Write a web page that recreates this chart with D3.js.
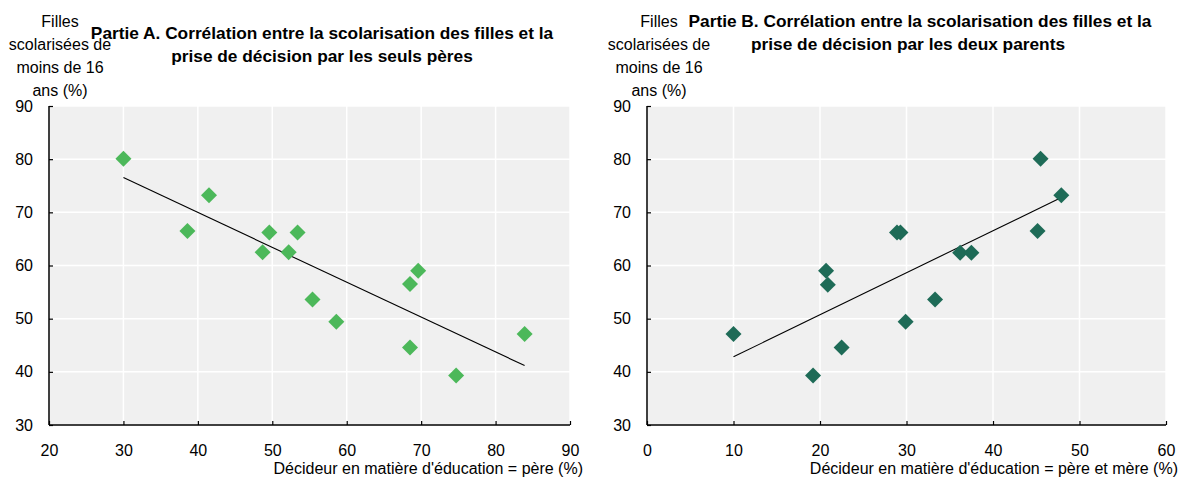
<!DOCTYPE html>
<html><head><meta charset="utf-8">
<script src="https://cdn.jsdelivr.net/npm/d3@7"></script>
<style>
body{margin:0;background:#fff;}
text{font-family:"Liberation Sans Narrow","Arial Narrow","Liberation Sans",Arial,sans-serif;}
</style></head>
<body><svg id="c" width="1179" height="478"></svg>
<script>
// Panel A: father-only decision (%) vs girls schooled (%)
const pereX = [30, 38.6, 41.5, 48.7, 49.6, 52.2, 53.4, 55.4, 58.6, 68.5, 69.6, 68.5, 74.7, 83.9];
const pereY = [80.1, 66.5, 73.2, 62.5, 66.2, 62.5, 66.2, 53.6, 49.4, 56.5, 59.0, 44.6, 39.3, 47.1];
// Panel B: both parents decision (%) vs girls schooled (%)
const deuxX = [10, 19.2, 20.7, 20.9, 22.5, 28.9, 29.3, 29.9, 33.3, 36.2, 37.5, 45.15, 45.5, 47.9];
const deuxY = [47.1, 39.3, 59.0, 56.4, 44.6, 66.2, 66.2, 49.4, 53.6, 62.4, 62.4, 66.5, 80.1, 73.2];

const xTicksA = [20, 30, 40, 50, 60, 70, 80, 90];
const xTicksB = [0, 10, 20, 30, 40, 50, 60];
const yTicks = [30, 40, 50, 60, 70, 80, 90];

const titleA = ["Partie A. Corrélation entre la scolarisation des filles et la", "prise de décision par les seuls pères"];
const titleB = ["Partie B. Corrélation entre la scolarisation des filles et la", "prise de décision par les deux parents"];
const yTitleA = ["Filles", "scolarisées de", "moins de 16", "ans (%)"];
const yTitleB = ["Filles", "scolarisées de", "moins de 16", "ans  (%)"];
const xTitleA = "Décideur en matière d'éducation = père (%)";
const xTitleB = "Décideur en matière d'éducation = père et mère (%)";

const svg = d3.select("#c");

function regress(xs, ys){
  const n = xs.length, mx = d3.mean(xs), my = d3.mean(ys);
  let sxy=0, sxx=0;
  for(let i=0;i<n;i++){sxy+=(xs[i]-mx)*(ys[i]-my); sxx+=(xs[i]-mx)**2;}
  const b = sxy/sxx, a = my - b*mx;
  return x => a + b*x;
}

function panel(o){
  const g = svg.append("g");
  const x = d3.scaleLinear().domain(o.xDomain).range([o.left, o.right]);
  const y = d3.scaleLinear().domain([30, 90]).range([425, 106]);
  g.append("rect").attr("x", o.left).attr("y", 106).attr("width", o.right-o.left).attr("height", 425-106).attr("fill", "#f0f0f0");
  g.selectAll(".vg").data(o.xTicks).join("line")
    .attr("x1", d=>x(d)).attr("x2", d=>x(d)).attr("y1", 106).attr("y2", 425)
    .attr("stroke", "#fff").attr("stroke-width", 1.5);
  g.selectAll(".hg").data(yTicks).join("line")
    .attr("x1", o.left).attr("x2", o.right).attr("y1", d=>y(d)).attr("y2", d=>y(d))
    .attr("stroke", "#fff").attr("stroke-width", 1.5);

  o.yTitle.forEach((t,i)=>{
    g.append("text").attr("x", o.yTitleX).attr("y", 27 + i*23).attr("text-anchor", "middle")
      .attr("font-size", 16).attr("fill", "#000").text(t);
  });

  const xa = g.append("g").attr("transform", `translate(0,425)`)
    .call(d3.axisBottom(x).tickValues(o.xTicks).tickSize(-4).tickPadding(20).tickFormat(d3.format("d")));
  const ya = g.append("g").attr("transform", `translate(${o.left},0)`)
    .call(d3.axisLeft(y).tickValues(yTicks).tickSize(-4).tickPadding(16).tickFormat(d3.format("d")));
  [xa, ya].forEach(a=>{
    a.select(".domain").attr("stroke", "#000").attr("stroke-width", 1.5);
    a.selectAll(".tick line").attr("stroke", "#000").attr("stroke-width", 1.2);
    a.selectAll(".tick text").attr("font-size", 16).attr("fill", "#000")
      .style("font-family", '"Liberation Sans Narrow","Arial Narrow","Liberation Sans",Arial,sans-serif');
  });
  xa.select(".domain").attr("d", `M${o.left},0H${o.right}`);
  ya.select(".domain").attr("d", `M0,425V106`);

  const f = regress(o.xs, o.ys);
  const ext = d3.extent(o.xs);
  g.append("line").attr("x1", x(ext[0])).attr("y1", y(f(ext[0])))
    .attr("x2", x(ext[1])).attr("y2", y(f(ext[1])))
    .attr("stroke", "#000").attr("stroke-width", 1.1);

  const sym = d3.symbol().type(d3.symbolSquare).size(128);
  g.selectAll(".pt").data(o.xs.map((v,i)=>[v, o.ys[i]])).join("path")
    .attr("d", sym)
    .attr("transform", d=>`translate(${x(d[0])},${y(d[1])}) rotate(45)`)
    .attr("fill", o.color);

  o.title.forEach((t,i)=>{
    g.append("text").attr("x", o.titleX[i]).attr("y", o.titleY + i*23).attr("text-anchor", "middle")
      .attr("font-size", 17.3).attr("font-weight", "bold").attr("fill", "#000").text(t);
  });
  g.append("text").attr("x", o.xTitleX).attr("y", 474).attr("text-anchor", "end")
    .attr("font-size", 16).attr("fill", "#000").text(o.xTitle);
}

panel({xDomain:[20,90], left:49, right:570, xTicks:xTicksA, xs:pereX, ys:pereY, color:"#4cb85a",
  title:titleA, titleX:[322, 322], titleY:39, yTitle:yTitleA, yTitleX:60, xTitle:xTitleA, xTitleX:583});
panel({xDomain:[0,60], left:647, right:1166, xTicks:xTicksB, xs:deuxX, ys:deuxY, color:"#1e6b57",
  title:titleB, titleX:[920, 908], titleY:27, yTitle:yTitleB, yTitleX:659, xTitle:xTitleB, xTitleX:1178});
</script></body></html>
